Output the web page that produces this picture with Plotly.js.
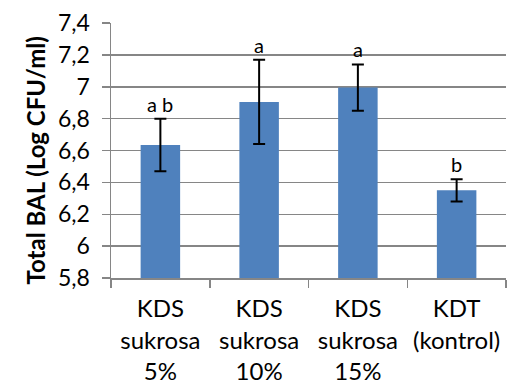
<!DOCTYPE html>
<html>
<head>
<meta charset="utf-8">
<script src="https://cdn.plot.ly/plotly-3.0.1.min.js"></script>
<style>html,body{margin:0;padding:0;background:#fff;}#chart{width:511px;height:388px;}</style>
</head>
<body>
<div id="chart"></div>
<script>
var categories = ["KDS<br>sukrosa<br>5%", "KDS<br>sukrosa<br>10%", "KDS<br>sukrosa<br>15%", "KDT<br>(kontrol)"];
var values = [6.635, 6.905, 6.995, 6.35];
var errors = [0.165, 0.265, 0.145, 0.07];
var letters = ["a b", "a", "a", "b"];
var yTicks = [5.8, 6.0, 6.2, 6.4, 6.6, 6.8, 7.0, 7.2, 7.4];
var yTitle = "Total BAL (Log CFU/ml)";

var FONT = "Lato, 'Liberation Sans', sans-serif";

var trace = {
  type: "bar",
  x: categories,
  y: values,
  marker: {color: "#4F81BD"},
  error_y: {type: "data", array: errors, visible: true, color: "#000000", thickness: 2, width: 6},
  hoverinfo: "none"
};

var annotations = letters.map(function (t, i) {
  return {
    x: categories[i], y: values[i] + errors[i], xref: "x", yref: "y",
    text: t, showarrow: false, yanchor: "bottom", yshift: 1,
    font: {family: FONT, size: 20, color: "#000"}
  };
});
annotations.push({
  xref: "paper", yref: "paper", x: 0, y: 0.5, xshift: -76, yshift: -10,
  xanchor: "center", yanchor: "middle", textangle: -90, showarrow: false,
  text: "<b>" + yTitle + "</b>",
  font: {family: FONT, size: 24, color: "#000"}
});

var layout = {
  width: 511, height: 388,
  margin: {l: 111, r: 5, t: 23, b: 110, pad: 0},
  paper_bgcolor: "#fff", plot_bgcolor: "#fff",
  separators: ",.",
  showlegend: false,
  bargap: 0.6,
  font: {family: FONT, color: "#000"},
  xaxis: {
    type: "category",
    range: [-0.5, 3.5],
    showline: true, linecolor: "#868686", linewidth: 1.5,
    ticks: "outside", tickson: "boundaries", ticklen: 8, tickcolor: "#868686", tickwidth: 1.5,
    showgrid: false,
    tickangle: 0,
    tickfont: {family: FONT, size: 24, color: "#000"},
    ticklabelstandoff: 9
  },
  yaxis: {
    range: [5.8, 7.4],
    tickvals: yTicks,
    showline: true, linecolor: "#868686", linewidth: 1.5,
    ticks: "outside", ticklen: 8, tickcolor: "#868686", tickwidth: 1.5,
    showgrid: true, gridcolor: "#868686", gridwidth: 1.5,
    zeroline: false,
    tickfont: {family: FONT, size: 23, color: "#000"},
    ticklabelstandoff: 7
  },
  annotations: annotations
};

Plotly.newPlot("chart", [trace], layout, {staticPlot: true, displayModeBar: false});
</script>
</body>
</html>
